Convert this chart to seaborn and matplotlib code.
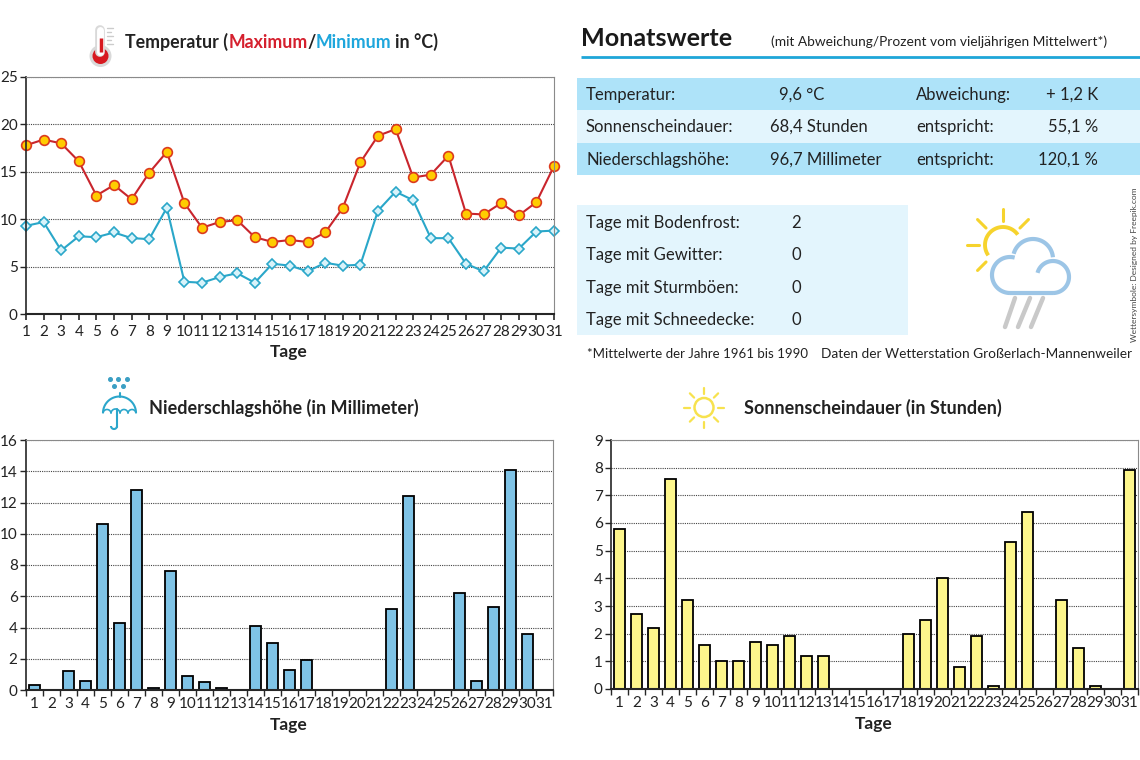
import numpy as np
import pandas as pd
import matplotlib
matplotlib.use("Agg")
import matplotlib.pyplot as plt
from matplotlib.patches import Rectangle, Circle
import seaborn as sns

tage = list(range(1, 32))
temp_max = [17.8, 18.4, 18.0, 16.1, 12.5, 13.6, 12.1, 14.9, 17.1, 11.7, 9.1, 9.7, 9.9, 8.1, 7.6, 7.8,
            7.6, 8.6, 11.2, 16.0, 18.8, 19.5, 14.4, 14.7, 16.7, 10.6, 10.5, 11.7, 10.4, 11.8, 15.6]
temp_min = [9.3, 9.7, 6.7, 8.2, 8.1, 8.6, 8.0, 7.9, 11.2, 3.4, 3.3, 3.9, 4.3, 3.3, 5.3, 5.1,
            4.5, 5.4, 5.1, 5.2, 10.9, 12.9, 12.0, 8.0, 8.0, 5.3, 4.5, 7.0, 6.9, 8.7, 8.8]
regen = [0.3, 0, 1.2, 0.6, 10.6, 4.3, 12.8, 0.1, 7.6, 0.9, 0.5, 0.1, 0, 4.1, 3.0, 1.3,
         1.9, 0, 0, 0, 0, 5.2, 12.4, 0, 0, 6.2, 0.6, 5.3, 14.1, 3.6, 0]
sonne = [5.8, 2.7, 2.2, 7.6, 3.2, 1.6, 1.0, 1.0, 1.7, 1.6, 1.9, 1.2, 1.2, 0, 0, 0,
         0, 2.0, 2.5, 4.0, 0.8, 1.9, 0.1, 5.3, 6.4, 0, 3.2, 1.5, 0.1, 0, 7.9]

monat_links = ["Temperatur:", "Sonnenscheindauer:", "Niederschlagshöhe:"]
monat_wert = ["9,6 °C", "68,4 Stunden", "96,7 Millimeter"]
monat_mitte = ["Abweichung:", "entspricht:", "entspricht:"]
monat_abw = ["+ 1,2 K", "55,1 %", "120,1 %"]
tage_namen = ["Tage mit Bodenfrost:", "Tage mit Gewitter:", "Tage mit Sturmböen:", "Tage mit Schneedecke:"]
tage_werte = ["2", "0", "0", "0"]

W, H = 1140, 760
FONT = "Lato"
TXT = "#222222"


def px_axes(fig, x0, y0, x1, y1):
    return fig.add_axes([x0 / W, 1 - y1 / H, (x1 - x0) / W, (y1 - y0) / H])


def style_axes(ax):
    ax.spines["top"].set_color("#8a8a8a")
    ax.spines["right"].set_color("#8a8a8a")
    ax.spines["top"].set_visible(True)
    ax.spines["right"].set_visible(True)
    ax.spines["left"].set_linewidth(1.2)
    ax.spines["bottom"].set_linewidth(1.5)
    ax.grid(axis="y", color="#444444", linestyle=(0, (1, 1)), linewidth=0.8)
    ax.set_axisbelow(True)
    ax.tick_params(axis="y", length=4, width=1, labelsize=11, labelcolor=TXT, pad=2)


def bars(fig, box, values, color, ymax, yticks):
    ax = px_axes(fig, *box)
    df = pd.DataFrame({"tag": tage, "wert": values})
    sns.barplot(data=df, x="tag", y="wert", color=color, width=0.6, saturation=1,
                edgecolor="black", linewidth=1.3, ax=ax)
    ax.set_xlim(-0.5, 30.5)
    ax.set_ylim(0, ymax)
    ax.set_yticks(yticks)
    ax.set_xticks(np.arange(-0.5, 31, 1))
    ax.set_xticklabels([])
    ax.set_xticks(range(31), minor=True)
    ax.set_xticklabels(tage, minor=True)
    ax.tick_params(axis="x", which="major", length=4, width=1)
    ax.tick_params(axis="x", which="minor", length=0, labelsize=11, labelcolor=TXT, pad=5)
    ax.set_xlabel("")
    ax.set_ylabel("")
    style_axes(ax)
    return ax


def arc(ov, cx, cy, r, a1, a2, **kw):
    t = np.radians(np.linspace(a1, a2, 60))
    ov.plot(cx + r * np.cos(t), cy - r * np.sin(t), solid_capstyle="butt", **kw)


def rays(ov, cx, cy, r1, r2, angles, **kw):
    for a in angles:
        t = np.radians(a)
        ov.plot([cx + r1 * np.cos(t), cx + r2 * np.cos(t)],
                [cy - r1 * np.sin(t), cy - r2 * np.sin(t)], solid_capstyle="round", **kw)


def chain_title(ov, x, y, parts, size):
    prev = None
    for s, c, gap in parts:
        if prev is None:
            prev = ov.text(x, y, s, color=c, fontsize=size, fontweight="bold", va="center_baseline")
        else:
            prev = ov.annotate(s, xy=(1, 0), xycoords=prev, xytext=(gap, 0), textcoords="offset points",
                               color=c, fontsize=size, fontweight="bold", va="bottom")


def main():
    sns.set_style("ticks")
    plt.rcParams["font.family"] = [FONT, "DejaVu Sans"]
    fig = plt.figure(figsize=(W / 100, H / 100), dpi=100)

    # pixel overlay for tables, titles and icons
    ov = fig.add_axes([0, 0, 1, 1], zorder=5)
    ov.set_xlim(0, W)
    ov.set_ylim(H, 0)
    ov.axis("off")
    ov.patch.set_alpha(0)

    # temperature
    ax = px_axes(fig, 26, 77, 554, 314)
    df = pd.DataFrame({"tag": tage, "max": temp_max, "min": temp_min})
    sns.lineplot(data=df, x="tag", y="max", color="#c9252d", linewidth=1.5, marker="o", markersize=7,
                 markerfacecolor="#ffcc00", markeredgecolor="#dc3a1e", markeredgewidth=1.2, ax=ax, clip_on=False)
    sns.lineplot(data=df, x="tag", y="min", color="#2aa7c9", linewidth=1.5, marker="D", markersize=5.5,
                 markerfacecolor="#d8f3fa", markeredgecolor="#2aa7c9", markeredgewidth=1.2, ax=ax, clip_on=False)
    ax.set_xlim(1, 31)
    ax.set_ylim(0, 25)
    ax.set_xticks(tage)
    ax.set_yticks(range(0, 26, 5))
    ax.tick_params(axis="x", length=4, width=1.2, labelsize=11, labelcolor=TXT, pad=4)
    ax.set_xlabel("")
    ax.set_ylabel("")
    style_axes(ax)

    bars(fig, (26, 440, 553, 690), regen, "#7fc3e6", 16, range(0, 17, 2))
    bars(fig, (611, 440, 1138, 689), sonne, "#fdf68c", 9, range(0, 10))

    # x labels
    for x, y in [(289, 352), (289, 725), (874, 724)]:
        ov.text(x, y, "Tage", fontsize=12.5, fontweight="bold", color=TXT, ha="center", va="center")

    # titles
    chain_title(ov, 125, 40, [("Temperatur (", TXT, 0), ("Maximum", "#d5202e", 0), ("/", TXT, 0),
                              ("Minimum", "#1ea6dc", 0), ("in °C)", TXT, 3)], 12.8)
    ov.text(149, 408, "Niederschlagshöhe (in Millimeter)", fontsize=13, fontweight="bold", color=TXT, va="center")
    ov.text(744, 408, "Sonnenscheindauer (in Stunden)", fontsize=13, fontweight="bold", color=TXT, va="center")

    # monatswerte header
    ov.text(581, 38, "Monatswerte", fontsize=18.1, fontweight="bold", color="#1a1a1a", va="center")
    ov.text(771, 42, "(mit Abweichung/Prozent vom vieljährigen Mittelwert*)", fontsize=9.9, color=TXT, va="center")
    ov.plot([581, W], [56.5, 56.5], color="#1ea6d8", linewidth=2, solid_capstyle="butt")

    # tables
    for top, bot, c in [(78, 110, "#aee3f9"), (110, 143, "#e3f5fd"), (143, 175, "#aee3f9")]:
        ov.add_patch(Rectangle((577, top), W - 577, bot - top, facecolor=c, edgecolor="none"))
    ov.add_patch(Rectangle((577, 205), 331, 130, facecolor="#e3f5fd", edgecolor="none"))

    fs = 12
    for i, y in enumerate([95, 127, 160]):
        ov.text(586, y, monat_links[i], fontsize=fs, color=TXT, va="center")
        ov.text(779 if i == 0 else 770, y, monat_wert[i], fontsize=fs, color=TXT, va="center")
        ov.text(916, y, monat_mitte[i], fontsize=fs, color=TXT, va="center")
        ov.text(1098, y, monat_abw[i], fontsize=fs, color=TXT, va="center", ha="right")
    for i, y in enumerate([223, 255, 288, 320]):
        ov.text(586, y, tage_namen[i], fontsize=fs, color=TXT, va="center")
        ov.text(796, y, tage_werte[i], fontsize=fs, color=TXT, va="center", ha="center")

    ov.text(587, 354, "*Mittelwerte der Jahre 1961 bis 1990", fontsize=9.5, color=TXT, va="center")
    ov.text(1132, 354, "Daten der Wetterstation Großerlach-Mannenweiler", fontsize=9.8, color=TXT, va="center", ha="right")
    ov.text(1135, 265, "Wettersymbole: Designed by Freepik.com", fontsize=6, color="#444444",
            rotation=90, va="center", ha="center")

    # thermometer icon
    ov.plot([100, 100], [30, 52], color="#d9d9d9", linewidth=7, solid_capstyle="round")
    ov.add_patch(Circle((100.5, 56), 11, facecolor="#d9d9d9", edgecolor="none"))
    ov.plot([100, 100], [30, 52], color="white", linewidth=5, solid_capstyle="round")
    ov.add_patch(Circle((100.5, 56), 8, facecolor="#d71920", edgecolor="none"))
    ov.plot([100.5, 100.5], [38, 52], color="#d71920", linewidth=2.5, solid_capstyle="butt")
    for k, y in enumerate(range(28, 46, 4)):
        ov.plot([107, 113 if k % 2 == 0 else 111], [y, y], color="#cccccc", linewidth=1)

    # umbrella icon
    blau = "#2ba6cb"
    arc(ov, 119.5, 413, 16.5, 0, 180, color=blau, linewidth=1.5)
    for a, b in [(103, 111), (111, 120), (120, 128), (128, 136)]:
        arc(ov, (a + b) / 2, 413.5, (b - a) / 2, 0, 180, color=blau, linewidth=1.2)
    ov.plot([119.5, 119.5], [393, 397], color=blau, linewidth=1.5)
    ov.plot([117, 117], [409, 427], color=blau, linewidth=1.5)
    arc(ov, 114, 426, 3, 180, 360, color=blau, linewidth=1.5)
    ov.plot([110, 118, 127, 114, 123], [379, 379, 379, 386, 386], ls="none", marker="o", ms=2.6, color="#3b9fc4")

    # sun icon
    gelb = "#f7e24e"
    ov.add_patch(Circle((704, 407.5), 9.5, facecolor="none", edgecolor=gelb, linewidth=1.8))
    rays(ov, 704, 407.5, 14, 20, range(0, 360, 45), color=gelb, linewidth=1.6)

    # weather icon
    sg = "#f6d32d"
    arc(ov, 1003, 245, 18, 35, 215, color=sg, linewidth=2.8)
    rays(ov, 1003, 245, 24, 36, [90, 45, 135, 180, 225], color=sg, linewidth=2.2)
    wolke = "#9cc5e6"
    arc(ov, 1033, 259, 20, 5, 165, color=wolke, linewidth=3)
    arc(ov, 1010, 275, 18, 75, 270, color=wolke, linewidth=3)
    arc(ov, 1053, 277, 16, -90, 165, color=wolke, linewidth=3)
    ov.plot([1010, 1053], [293, 293], color=wolke, linewidth=3, solid_capstyle="butt")
    for x0, x1 in [(1015, 1005), (1030, 1018), (1043, 1031)]:
        ov.plot([x0, x1], [298, 327], color="#c9c9c9", linewidth=3.2, solid_capstyle="round")

    fig.savefig("out.png", dpi=100, facecolor="white")


if __name__ == "__main__":
    main()
